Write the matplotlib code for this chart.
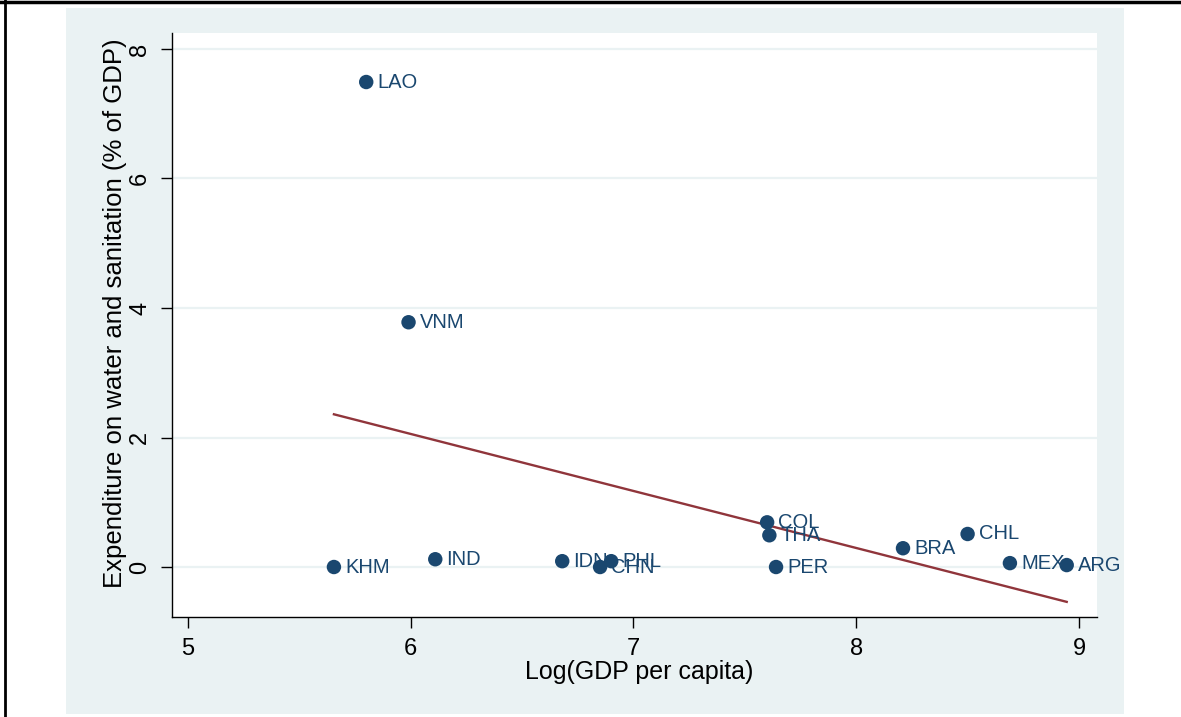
import numpy as np
import matplotlib.pyplot as plt
from matplotlib.patches import Rectangle
from matplotlib.lines import Line2D

# country codes, log GDP per capita, and spending on water & sanitation (% of GDP)
countries = ['LAO', 'VNM', 'KHM', 'IND', 'IDN', 'PHL', 'CHN',
             'COL', 'THA', 'PER', 'BRA', 'CHL', 'MEX', 'ARG']
log_gdp = [5.80, 5.99, 5.655, 6.11, 6.68, 6.90, 6.85,
           7.60, 7.61, 7.64, 8.21, 8.50, 8.69, 8.945]
expenditure = [7.49, 3.78, 0.00, 0.12, 0.09, 0.09, 0.00,
               0.69, 0.49, 0.00, 0.29, 0.51, 0.06, 0.03]

x_ticks = [5, 6, 7, 8, 9]
y_ticks = [0, 2, 4, 6, 8]

navy = '#1A476F'
maroon = '#90353B'
panel = '#EAF2F3'

plt.rcParams['font.family'] = ['Liberation Sans', 'DejaVu Sans']

fig = plt.figure(figsize=(11.81, 7.17), dpi=100)
W, H = 1181, 717

# light graph region behind the plot
fig.add_artist(Rectangle((66 / W, 1 - 714 / H), (1124 - 66) / W, (714 - 8) / H,
                         transform=fig.transFigure, facecolor=panel,
                         edgecolor='none', zorder=-10))
# frame lines along top and left edge
fig.add_artist(Line2D([0, 1], [1 - 1.5 / H, 1 - 1.5 / H], transform=fig.transFigure,
                      color='black', linewidth=2.5, zorder=5))
fig.add_artist(Line2D([5 / W, 5 / W], [0, 1], transform=fig.transFigure,
                      color='black', linewidth=2, zorder=5))

ax = fig.add_axes([172 / W, 1 - 617 / H, (1097 - 172) / W, (617 - 33) / H])
ax.set_zorder(1)
ax.set_facecolor('white')
ax.set_xlim(4.928, 9.081)
ax.set_ylim(-0.772, 8.247)

for yt in y_ticks:
    ax.axhline(yt, color=panel, linewidth=1.6, zorder=1)

ax.scatter(log_gdp, expenditure, s=108, color=navy, edgecolors='none', zorder=3)
for name, xv, yv in zip(countries, log_gdp, expenditure):
    ax.annotate(name, (xv, yv), xytext=(8, 0), textcoords='offset points',
                ha='left', va='center', fontsize=14.5, color=navy, zorder=4)

# linear fit
slope, intercept = np.polyfit(log_gdp, expenditure, 1)
xs = np.array([min(log_gdp), max(log_gdp)])
ax.plot(xs, intercept + slope * xs, color=maroon, linewidth=1.7, zorder=2)

for side in ['top', 'right']:
    ax.spines[side].set_visible(False)
for side in ['left', 'bottom']:
    ax.spines[side].set_linewidth(1.0)

ax.set_xticks(x_ticks)
ax.set_yticks(y_ticks)
ax.tick_params(axis='both', direction='out', length=8, width=1, labelsize=17, pad=7)
for lab in ax.get_yticklabels():
    lab.set_rotation(90)
    lab.set_va('center')

ax.set_xlabel('Log(GDP per capita)', fontsize=18, va='top')
ax.xaxis.set_label_coords(0.505, -0.0728)
ax.set_ylabel('Expenditure on water and sanitation (% of GDP)', fontsize=18.5)
ax.yaxis.set_label_coords(-0.0486, 0.521)

fig.savefig('out.png', dpi=100)
